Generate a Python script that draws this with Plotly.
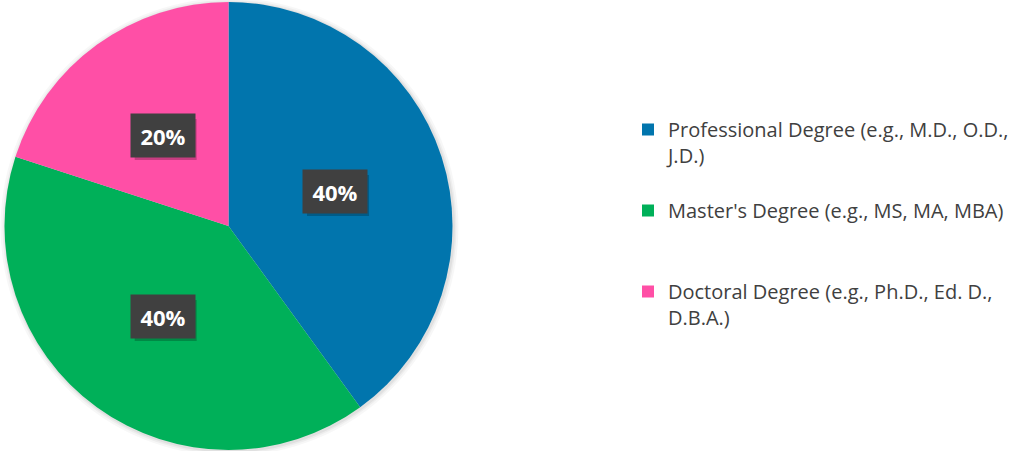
import math
import plotly.graph_objects as go

labels = [
    "Professional Degree (e.g., M.D., O.D.,<br>J.D.)<br> ",
    "Master's Degree (e.g., MS, MA, MBA)<br> <br> ",
    "Doctoral Degree (e.g., Ph.D., Ed. D.,<br>D.B.A.)<br> ",
]
values = [40, 40, 20]
colors = ["#0175AD", "#00B059", "#FF4FA6"]

W, H = 1029, 451
cx, cy, r = 228.5, 226.0, 224.0
BW, BH = 62, 41

fig = go.Figure()
fig.add_trace(go.Pie(
    labels=labels,
    values=values,
    sort=False,
    direction="clockwise",
    rotation=0,
    marker=dict(colors=colors, line=dict(width=0)),
    textinfo="none",
    hoverinfo="label+percent",
    domain=dict(x=[(cx - r) / W, (cx + r) / W], y=[1 - (cy + r) / H, 1 - (cy - r) / H]),
))

# soft shadow around the pie
shapes = []
for extra, alpha in [(5, 0.03), (3, 0.04), (1.5, 0.05)]:
    shapes.append(dict(
        type="circle", xref="paper", yref="paper", layer="below",
        x0=(cx - r - extra + 1) / W, x1=(cx + r + extra + 1) / W,
        y0=1 - (cy + r + extra + 1) / H, y1=1 - (cy - r - extra + 1) / H,
        fillcolor=f"rgba(0,0,0,{alpha})", line=dict(width=0),
    ))

total = sum(values)
cum = 0
annotations = []
for v in values:
    mid = (cum + v / 2) / total * 2 * math.pi
    cum += v
    px = cx + 0.5 * r * math.sin(mid)
    py = cy - 0.5 * r * math.cos(mid)
    # drop shadow of the label box
    sx, sy = px + 3, py + 4
    shapes.append(dict(
        type="rect", xref="paper", yref="paper", layer="above",
        x0=(sx - BW / 2) / W, x1=(sx + BW / 2) / W,
        y0=1 - (sy + BH / 2) / H, y1=1 - (sy - BH / 2) / H,
        fillcolor="rgba(0,0,0,0.22)", line=dict(width=0),
    ))
    annotations.append(dict(
        x=px / W, y=1 - py / H, xref="paper", yref="paper",
        xanchor="center", yanchor="middle",
        text=f"<b>{round(v / total * 100)}%</b>", showarrow=False,
        font=dict(family="Open Sans", size=22, color="white"),
        bgcolor="#404040", width=BW, height=BH, align="center", valign="middle",
    ))

fig.update_layout(
    width=W, height=H,
    margin=dict(l=0, r=0, t=0, b=0),
    paper_bgcolor="white", plot_bgcolor="white",
    showlegend=True,
    legend=dict(
        x=628 / W, xanchor="left", y=1 - 110 / H, yanchor="top",
        font=dict(family="Open Sans", size=20, color="#404040"),
        valign="top", itemsizing="constant",
        bgcolor="rgba(0,0,0,0)",
    ),
    shapes=shapes,
    annotations=annotations,
)

fig.write_html("out.html", config={"displayModeBar": False},
               post_script="document.body.style.margin='0';")
